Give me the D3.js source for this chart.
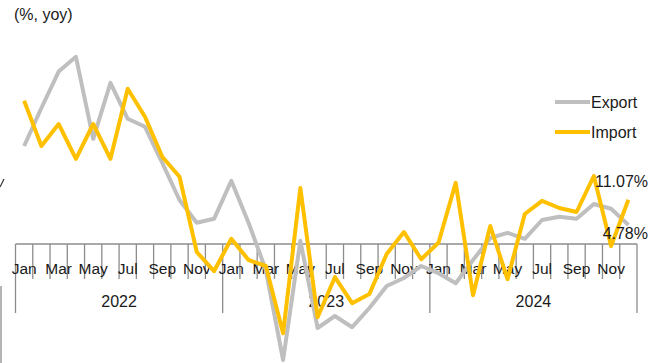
<!DOCTYPE html>
<html>
<head>
<meta charset="utf-8">
<script src="https://cdn.jsdelivr.net/npm/d3@7"></script>
<style>
  html, body { margin: 0; padding: 0; background: #fff; }
  svg { display: block; }
  .lbl { font-family: "Liberation Sans Narrow", "Liberation Sans", Arial, sans-serif; fill: #1a1a1a; }
</style>
</head>
<body>
<svg id="chart" width="650" height="363"></svg>
<script>
// Monthly year-on-year growth, Jan 2022 - Dec 2024
const years = ["2022", "2023", "2024"];
const monthNames = ["Jan","Feb","Mar","Apr","May","Jun","Jul","Aug","Sep","Oct","Nov","Dec"];
const months = years.flatMap(y => monthNames.map(m => y + "-" + m));

const exportGrowth = [
  24.5, 34.0, 43.1, 46.8, 26.3, 40.3, 31.3, 29.3, 20.3, 11.0, 5.3, 6.3,
  15.8, 5.3, -6.5, -29.0, 0.8, -21.0, -18.0, -20.8, -16.0, -10.5, -8.5, -5.5,
  -7.3, -9.8, -4.0, 1.5, 2.8, 1.3, 6.0, 6.8, 6.3, 10.0, 8.8, 4.78
];
const importGrowth = [
  35.8, 24.5, 30.0, 21.3, 30.0, 21.3, 38.8, 31.8, 21.8, 16.8, -2.0, -6.8,
  1.3, -4.0, -5.5, -22.3, 14.0, -18.3, -8.3, -14.8, -12.5, -2.5, 3.0, -3.8,
  0.3, 15.3, -12.8, 4.5, -8.8, 7.5, 10.8, 9.0, 8.0, 17.0, -0.5, 11.07
];
const seriesNames = ["Export", "Import"];
const seriesColors = ["#BFBFBF", "#FFC000"];

const svg = d3.select("#chart");

const x = d3.scaleBand().domain(months).range([15.5, 637]).paddingInner(0).paddingOuter(0);
const y = d3.scaleLinear().domain([-30, 60]).range([244 + 30 * 4, 244 - 60 * 4]);
const cx = m => x(m) + x.bandwidth() / 2;

// category tick marks below the zero line
const tickG = svg.append("g");
const bounds = d3.range(months.length + 1).map(i => 15.5 + i * x.bandwidth());
tickG.selectAll("line.tick").data(bounds).join("line")
  .attr("x1", d => d).attr("x2", d => d)
  .attr("y1", y(0))
  .attr("y2", (d, i) => (i % 12 === 0) ? 313 : 279)
  .attr("stroke", "#8c8c8c").attr("stroke-width", 1.3);

// zero axis line
svg.append("line")
  .attr("x1", 15.5).attr("x2", 637)
  .attr("y1", y(0)).attr("y2", y(0))
  .attr("stroke", "#8c8c8c").attr("stroke-width", 1.5);

// frame edge at the left
svg.append("line")
  .attr("x1", 1).attr("x2", 1).attr("y1", 286).attr("y2", 363)
  .attr("stroke", "#8c8c8c").attr("stroke-width", 1.3);

// small stroke at the left edge
svg.append("path")
  .attr("d", "M0,187 L4,179")
  .attr("stroke", "#333").attr("stroke-width", 1.2).attr("fill", "none");

// month labels (every other month)
svg.append("g").selectAll("text").data(months.filter((m, i) => i % 2 === 0)).join("text")
  .attr("class", "lbl")
  .attr("x", d => cx(d)).attr("y", 274)
  .attr("text-anchor", "middle")
  .attr("font-size", 15.5)
  .text(d => d.split("-")[1]);

// year labels
svg.append("g").selectAll("text").data(years).join("text")
  .attr("class", "lbl")
  .attr("x", (d, i) => 15.5 + (i * 12 + 6) * x.bandwidth())
  .attr("y", 307)
  .attr("text-anchor", "middle")
  .attr("font-size", 16)
  .text(d => d);

// series lines
const line = d3.line().x((d, i) => cx(months[i])).y(d => y(d));
[exportGrowth, importGrowth].forEach((vals, k) => {
  svg.append("path")
    .datum(vals)
    .attr("d", line)
    .attr("fill", "none")
    .attr("stroke", seriesColors[k])
    .attr("stroke-width", 4)
    .attr("stroke-linejoin", "round");
});

// end value labels
const last = months.length - 1;
svg.append("text").attr("class", "lbl")
  .attr("x", 648).attr("y", y(importGrowth[last]) - 13)
  .attr("text-anchor", "end").attr("font-size", 16)
  .text(importGrowth[last].toFixed(2) + "%");
svg.append("text").attr("class", "lbl")
  .attr("x", 648).attr("y", y(exportGrowth[last]) + 14)
  .attr("text-anchor", "end").attr("font-size", 16)
  .text(exportGrowth[last].toFixed(2) + "%");

// unit caption
svg.append("text").attr("class", "lbl")
  .attr("x", 14).attr("y", 20).attr("font-size", 16)
  .text("(%, yoy)");

// legend
const leg = svg.append("g");
seriesNames.forEach((name, k) => {
  const ly = 102 + k * 30;
  leg.append("line").attr("x1", 555).attr("x2", 590).attr("y1", ly).attr("y2", ly)
    .attr("stroke", seriesColors[k]).attr("stroke-width", 4);
  leg.append("text")
    .attr("x", 591).attr("y", ly + 6)
    .attr("font-family", "'Liberation Sans', Arial, sans-serif")
    .attr("font-size", 16).attr("fill", "#1a1a1a")
    .text(name);
});
</script>
</body>
</html>
